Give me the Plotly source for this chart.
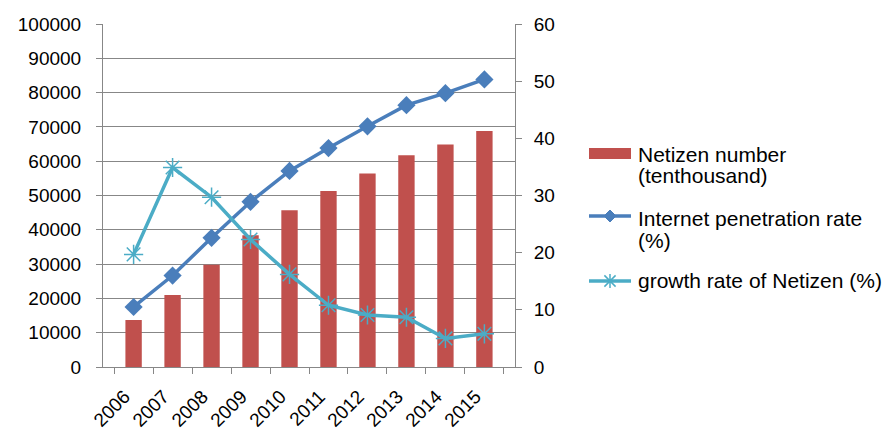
import plotly.graph_objects as go

years = ["2006", "2007", "2008", "2009", "2010", "2011", "2012", "2013", "2014", "2015"]
netizen_number = [13700, 21000, 29800, 38400, 45730, 51310, 56400, 61758, 64875, 68826]
penetration_rate = [10.5, 16.0, 22.6, 28.9, 34.3, 38.3, 42.1, 45.8, 47.9, 50.3]
growth_rate = [19.7, 34.9, 29.7, 22.3, 16.2, 10.8, 9.1, 8.7, 5.0, 5.8]

legend_labels = [
    ["Netizen number", "(tenthousand)"],
    ["Internet penetration rate", "(%)"],
    ["growth rate of Netizen (%)"],
]

RED = "#C0504D"
BLUE = "#4A7EBB"
CYAN = "#4BACC6"
GRID = "#878787"
FONT = "Liberation Sans, Arial, sans-serif"

W, H = 892, 432
ML, MR, MT, MB = 103, 377, 24, 65
PW, PH = W - ML - MR, H - MT - MB


def px(x):
    return (x - ML) / PW


def py(y):
    return 1 - (y - MT) / PH


fig = go.Figure()

fig.add_trace(go.Bar(
    x=years, y=netizen_number, name=" ".join(legend_labels[0]),
    marker=dict(color=RED, line=dict(width=0)), width=0.42,
    yaxis="y", showlegend=False,
))
fig.add_trace(go.Scatter(
    x=years, y=penetration_rate, name=" ".join(legend_labels[1]),
    mode="lines+markers", line=dict(color=BLUE, width=3.5),
    marker=dict(symbol="diamond", size=14, color=BLUE),
    yaxis="y2", showlegend=False,
))
fig.add_trace(go.Scatter(
    x=years, y=growth_rate, name=" ".join(legend_labels[2]),
    mode="lines+markers", line=dict(color=CYAN, width=3.5),
    marker=dict(symbol="asterisk-open", size=16, color=CYAN,
                line=dict(color=CYAN, width=1.5)),
    yaxis="y2", showlegend=False,
))

# ---- manual legend (symbols + text) ----
shapes = []
annotations = []
sym_x0, sym_x1, text_x = 589, 631, 636
sym_mid = (sym_x0 + sym_x1) / 2
line_rows = [[154, 175], [218, 240], [280]]
sym_rows = [153.5, 216, 281]

# red bar symbol
shapes.append(dict(type="rect", xref="paper", yref="paper",
                   x0=px(sym_x0), x1=px(sym_x1), y0=py(159), y1=py(148),
                   fillcolor=RED, line=dict(width=0)))
# blue line + diamond
shapes.append(dict(type="line", xref="paper", yref="paper",
                   x0=px(sym_x0), x1=px(sym_x1), y0=py(sym_rows[1]), y1=py(sym_rows[1]),
                   line=dict(color=BLUE, width=3.5)))
d = 6
yy = sym_rows[1]
shapes.append(dict(type="path", xref="paper", yref="paper",
                   path=f"M {px(sym_mid-d)},{py(yy)} L {px(sym_mid)},{py(yy-d)} "
                        f"L {px(sym_mid+d)},{py(yy)} L {px(sym_mid)},{py(yy+d)} Z",
                   fillcolor=BLUE, line=dict(color=BLUE, width=1)))
# cyan line + asterisk
yy = sym_rows[2]
shapes.append(dict(type="line", xref="paper", yref="paper",
                   x0=px(sym_x0), x1=px(sym_x1), y0=py(yy), y1=py(yy),
                   line=dict(color=CYAN, width=3.5)))
a = 7
for (dx, dy) in [(0, a), (a * 0.8, a * 0.8), (a * 0.8, -a * 0.8)]:
    shapes.append(dict(type="line", xref="paper", yref="paper",
                       x0=px(sym_mid - dx), x1=px(sym_mid + dx),
                       y0=py(yy - dy), y1=py(yy + dy),
                       line=dict(color=CYAN, width=1.5)))

for labels, rows in zip(legend_labels, line_rows):
    for text, y in zip(labels, rows):
        annotations.append(dict(text=text, xref="paper", yref="paper",
                                x=px(text_x), y=py(y), xanchor="left", yanchor="middle",
                                showarrow=False, font=dict(size=21, color="black", family=FONT)))

fig.update_layout(
    width=W, height=H,
    margin=dict(l=ML, r=MR, t=MT, b=MB, autoexpand=False),
    paper_bgcolor="white", plot_bgcolor="white",
    font=dict(family=FONT, size=19, color="black"),
    showlegend=False,
    xaxis=dict(
        type="category", tickson="boundaries", ticks="outside", ticklen=6,
        tickcolor=GRID, showline=True, linecolor=GRID, linewidth=1,
        tickangle=-45, showgrid=False, tickfont=dict(size=19),
        ticklabelstandoff=10, ticklabelshift=-9, automargin=False,
    ),
    yaxis=dict(
        range=[0, 100000], dtick=10000, ticks="outside", ticklen=6,
        tickcolor=GRID, showline=True, linecolor=GRID, linewidth=1,
        showgrid=True, gridcolor=GRID, gridwidth=1, zeroline=False,
        tickformat="d", ticklabelstandoff=11, automargin=False,
    ),
    yaxis2=dict(
        range=[0, 60], dtick=10, overlaying="y", side="right",
        ticks="outside", ticklen=6, tickcolor=GRID, showline=True,
        linecolor=GRID, linewidth=1, showgrid=False, zeroline=False,
        ticklabelstandoff=8, automargin=False,
    ),
    shapes=shapes,
    annotations=annotations,
    bargap=0.58,
)

fig.write_html("out.html")
